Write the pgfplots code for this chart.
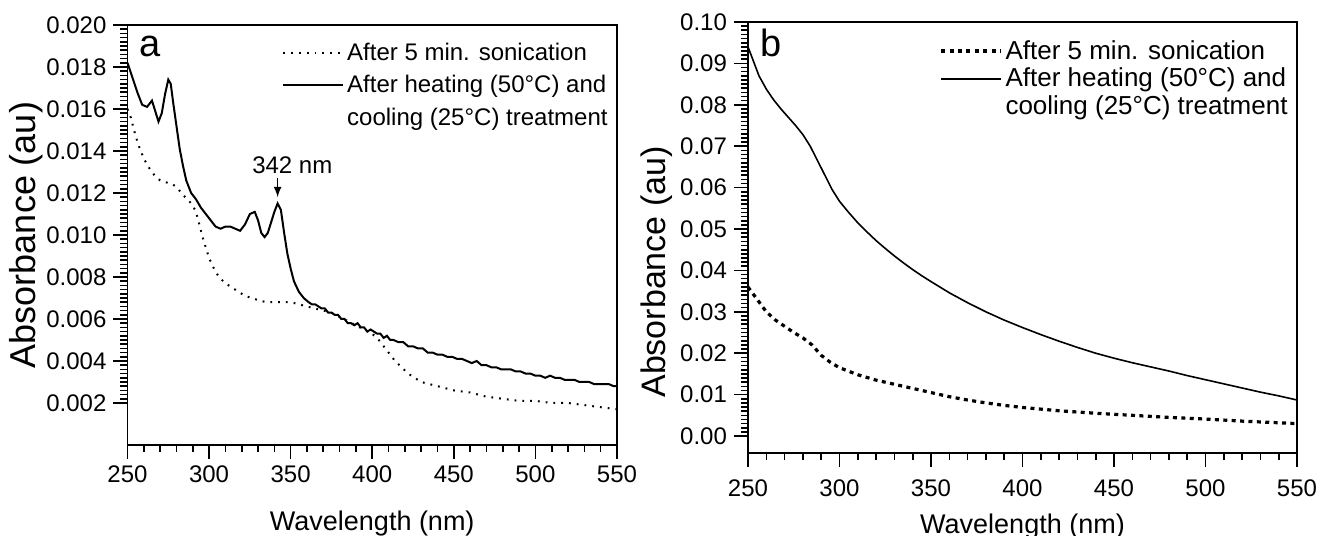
\documentclass[border=0pt]{standalone}
\usepackage{fontspec}
\setmainfont{Liberation Sans}
\usepackage{pgfplots}
\pgfplotsset{compat=1.18}

% 1 px of the reference = 0.5pt here
\pgfplotsset{
  panel/.style={
    scale only axis,
    axis line style={line width=0.9pt},
    tick align=outside,
    xtick pos=bottom, ytick pos=left,
    major tick length=7pt, minor tick length=3.5pt,
    every tick/.style={black, line width=0.8pt},
    xmin=250, xmax=550, xtick={250,300,...,550},
    minor x tick num=4, minor y tick num=9,
    scaled y ticks=false,
    /pgf/number format/assume math mode=true,
    tick label style={font=\fontsize{12}{14}\selectfont},
    xlabel style={font=\fontsize{13.5}{16}\selectfont},
    xlabel={Wavelength (nm)}, ylabel={Absorbance (au)},
    legend cell align=left,
    legend style={draw=none, fill=none,
      at={(rel axis cs:1,0.985)}, anchor=north east,
      nodes={inner sep=1.5pt}},
    legend image code/.code={\draw plot coordinates {(0cm,0cm) (1.05cm,0cm)};},
  },
}

\begin{document}
\begin{tikzpicture}
\path[use as bounding box] (0,0) rectangle (662pt,268pt);

% ---------- panel a ----------
\begin{axis}[panel,
  at={(63.75pt,45.5pt)}, anchor=south west,
  width=244.75pt, height=210pt,
  ymin=0, ymax=0.020,
  ytick={0.002,0.004,0.006,0.008,0.010,0.012,0.014,0.016,0.018,0.020},
  yticklabel style={/pgf/number format/.cd, fixed, fixed zerofill, precision=3},
  ylabel style={font=\fontsize{18}{20}\selectfont},
  ylabel shift=-5pt,
  xlabel style={yshift=-7pt},
  legend style={font=\fontsize{12}{14}\selectfont, row sep=3pt, at={(rel axis cs:1,0.975)}},
]
\addplot[black, line width=1pt, dash pattern=on 0.9pt off 3pt] coordinates {
(250,0.0160) (252,0.0156) (255,0.0147) (258,0.0140) (261,0.0135) (264,0.0131)
(267,0.0128) (270,0.0126) (274,0.0125) (278,0.0124) (281,0.0122) (284,0.0119)
(287,0.0117) (290,0.0114) (292,0.0111) (294,0.0105) (296,0.0099) (298,0.0094)
(300,0.0089) (303,0.0084) (306,0.0080) (310,0.0077) (314,0.0075) (318,0.0073)
(322,0.0071) (326,0.0070) (330,0.0069) (335,0.0068) (340,0.0068) (345,0.0068)
(350,0.0068) (355,0.0067) (360,0.0066) (365,0.0065) (370,0.0064) (375,0.0063)
(380,0.0061) (385,0.0059) (390,0.0057) (395,0.0055) (400,0.0053) (404,0.0050)
(407,0.0047) (410,0.0044) (414,0.0040) (418,0.0037) (422,0.0034) (426,0.0032)
(430,0.0030) (435,0.0029) (440,0.0028) (445,0.0027) (450,0.0026) (460,0.0025)
(470,0.0023) (480,0.0022) (490,0.0021) (500,0.0021) (510,0.0020) (520,0.0020)
(530,0.0019) (540,0.0018) (550,0.0017)
};
\addlegendentry{After 5 min. sonication}
\addplot[black, line width=1pt] coordinates {
(250,0.0182) (253,0.0175) (256,0.0168) (259,0.0162) (262,0.0161) (265,0.0164)
(267,0.0159) (269,0.0154) (271,0.0158) (273,0.0167) (275,0.0174) (276.5,0.0172)
(278,0.0163) (280,0.0152) (282,0.0141) (284,0.0133) (286,0.0126) (289,0.0120)
(292,0.0117) (295,0.0113) (298,0.0110) (301,0.0107) (304,0.0104) (307,0.0103)
(310,0.0104) (313,0.0104) (316,0.0103) (319,0.0102) (322,0.0105) (325,0.0110)
(328,0.0111) (330,0.0107) (332,0.0101) (334,0.0099) (336,0.0101) (338,0.0106)
(340,0.0111) (342,0.0115) (344,0.0112) (346,0.0101) (348,0.0091) (350,0.0084)
(352,0.0078) (355,0.0073) (358,0.0070) (361,0.0068) (363,0.0067) (365,0.0067)
(367,0.0066) (369,0.0065) (371,0.0065) (373,0.0063) (375,0.0063) (377,0.0062)
(379,0.0062) (381,0.0060) (383,0.0060) (385,0.0058) (387,0.0058) (389,0.0057)
(391,0.0058) (393,0.0056) (395,0.0056) (397,0.0054) (399,0.0055) (401,0.0054)
(403,0.0053) (405,0.0053) (407,0.0051) (409,0.0052) (411,0.0050) (413,0.0050)
(416,0.0049) (419,0.0049) (422,0.0047) (425,0.0047) (428,0.0046) (431,0.0046)
(434,0.0044) (437,0.0044) (440,0.0043) (443,0.0043) (446,0.0042) (449,0.0042)
(452,0.0041) (455,0.0041) (458,0.0040) (461,0.0039) (464,0.0040) (467,0.0038)
(470,0.0038) (473,0.0037) (476,0.0037) (479,0.0036) (482,0.0036) (485,0.0036)
(488,0.0035) (491,0.0035) (494,0.0034) (497,0.0034) (500,0.0033) (503,0.0033)
(506,0.0032) (509,0.0033) (512,0.0032) (515,0.0032) (518,0.0031) (521,0.0031)
(524,0.0031) (527,0.0030) (530,0.0030) (533,0.0030) (536,0.0029) (539,0.0029)
(542,0.0029) (545,0.0029) (548,0.0028) (550,0.0028)
};
\addlegendentry{After heating (50°C) and}
\addlegendimage{empty legend}
\addlegendentry{cooling (25°C) treatment}
\node[font=\fontsize{19}{20}\selectfont, anchor=north west] at (rel axis cs:0.01,0.99) {a};
\node[font=\fontsize{12}{14}\selectfont] at (axis cs:351,0.0133) {342 nm};
\draw[-latex, line width=0.8pt] (axis cs:342,0.0127) -- (axis cs:342,0.0118);
\end{axis}

% ---------- panel b ----------
\begin{axis}[panel,
  at={(374pt,41.5pt)}, anchor=south west,
  width=274.5pt, height=215.5pt,
  ymin=-0.0041, ymax=0.10,
  ytick={0,0.01,0.02,0.03,0.04,0.05,0.06,0.07,0.08,0.09,0.10},
  yticklabel style={/pgf/number format/.cd, fixed, fixed zerofill, precision=2},
  ylabel style={font=\fontsize{17}{19}\selectfont, at={(ticklabel cs:0.42)}},
  ylabel shift=-3pt,
  xticklabel style={yshift=-3pt},
  xlabel style={yshift=-1.5pt},
  legend style={font=\fontsize{13}{15}\selectfont, row sep=0pt, at={(rel axis cs:1,0.975)}},
]
\addplot[black, line width=1.6pt, dash pattern=on 2pt off 2.2pt] coordinates {
(250,0.0360) (255,0.0330) (260,0.0300) (265,0.0280) (270,0.0265) (275,0.0250)
(280,0.0237) (285,0.0220) (290,0.0195) (295,0.0178) (300,0.0165) (310,0.0148)
(320,0.0135) (330,0.0125) (340,0.0115) (350,0.0105) (360,0.0095) (370,0.0087)
(380,0.0080) (390,0.0074) (400,0.0069) (420,0.0061) (440,0.0055) (460,0.0050)
(480,0.0045) (500,0.0041) (520,0.0036) (540,0.0032) (550,0.0030)
};
\addlegendentry{After 5 min. sonication}
\addplot[black, line width=0.8pt] coordinates {
(250,0.0940) (253,0.0905) (256,0.0870) (260,0.0838) (264,0.0812) (268,0.0790)
(272,0.0770) (276,0.0750) (280,0.0728) (284,0.0700) (288,0.0665) (292,0.0630)
(296,0.0595) (300,0.0567) (305,0.0540) (310,0.0515) (315,0.0493) (320,0.0472)
(325,0.0453) (330,0.0435) (335,0.0418) (340,0.0402) (345,0.0387) (350,0.0373)
(360,0.0346) (370,0.0322) (380,0.0300) (390,0.0280) (400,0.0262) (410,0.0245)
(420,0.0229) (430,0.0214) (440,0.0200) (450,0.0188) (460,0.0177) (470,0.0167)
(480,0.0157) (490,0.0146) (500,0.0136) (510,0.0126) (520,0.0116) (530,0.0106)
(540,0.0097) (550,0.0087)
};
\addlegendentry{After heating (50°C) and}
\addlegendimage{empty legend}
\addlegendentry{cooling (25°C) treatment}
\node[font=\fontsize{19}{20}\selectfont, anchor=north west] at (rel axis cs:0.01,1) {b};
\end{axis}
\end{tikzpicture}
\end{document}
